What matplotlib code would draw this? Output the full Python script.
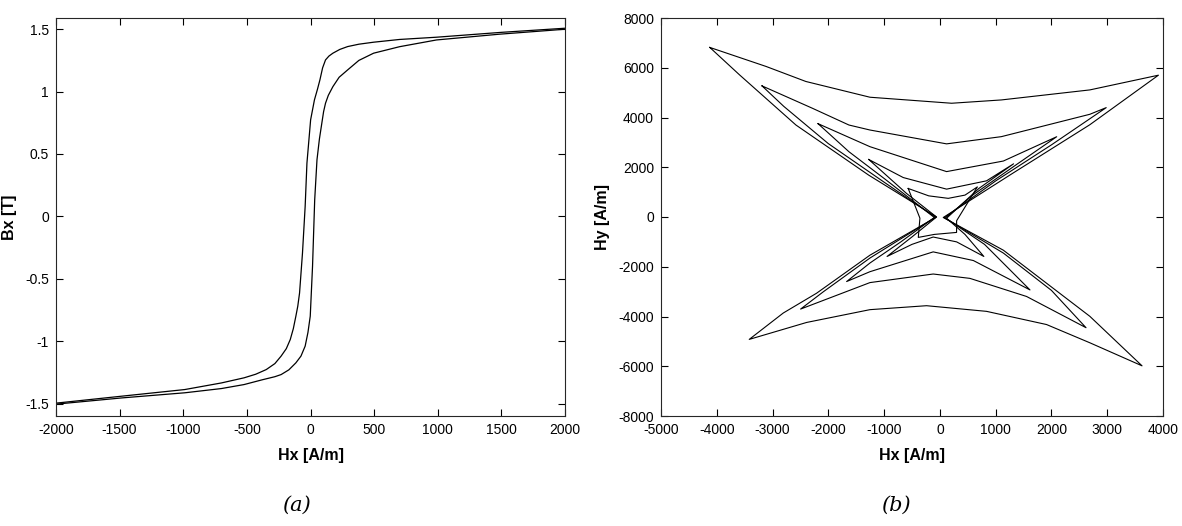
import matplotlib
matplotlib.use("Agg")
import matplotlib.pyplot as plt

plt.rcParams['font.family'] = ['Liberation Sans', 'DejaVu Sans']
plt.rcParams['axes.unicode_minus'] = False

# (a) hysteresis loop Bx(Hx)
desc_hx = [2000, 1500, 990, 700, 496, 380, 292, 230, 176, 145, 118, 95, 74, 55, 31, 1, -28, -42,
           -63, -86, -100, -115, -135, -159, -190, -231, -280, -348, -430, -522, -700, -988, -1482, -2000]
desc_bx = [1.508, 1.475, 1.436, 1.418, 1.396, 1.38, 1.361, 1.338, 1.308, 1.285, 1.254, 1.19, 1.094, 1.02,
           0.934, 0.774, 0.427, 0.08, -0.294, -0.614, -0.72, -0.80, -0.90, -0.987, -1.06, -1.12, -1.18,
           -1.228, -1.265, -1.294, -1.335, -1.388, -1.441, -1.497]
asc_hx = [-2000, -1482, -988, -700, -522, -380, -280, -231, -170, -115, -75, -42, -20, -2, 16, 33,
          51, 70, 89, 103, 118, 140, 176, 225, 292, 380, 496, 700, 990, 1482, 2000]
asc_bx = [-1.505, -1.455, -1.414, -1.38, -1.348, -1.31, -1.285, -1.268, -1.23, -1.174, -1.12, -1.04,
          -0.93, -0.80, -0.40, 0.133, 0.454, 0.62, 0.747, 0.84, 0.907, 0.97, 1.04, 1.115, 1.174,
          1.25, 1.308, 1.36, 1.414, 1.46, 1.500]

# (b) Hy(Hx) loci, outermost to innermost
loop1_hx = [-4125, -3116, -2403, -1254, 210, 1102, 2688, 3918,
            2688, 1300, 60,
            1138, 2688, 3624,
            2688, 1912, 836, -239, -1254, -2389, -3418,
            -2808, -2210, -1254, -60,
            -1275, -2581, -3592, -4125]
loop1_hy = [6817, 6052, 5448, 4815, 4573, 4706, 5109, 5701,
            3709, 1750, -20,
            -1335, -3992, -5983,
            -5056, -4323, -3793, -3566, -3725, -4239, -4920,
            -3860, -3063, -1535, 0,
            1681, 3698, 5714, 6817]

loop2_hx = [-3189, -2285, -1631, -1254, 120, 1102, 2688, 2982,
            2000, 1000, 80,
            1138, 2000, 2620,
            1554, 538, -120, -1254, -2497,
            -2091, -1254, -80,
            -1000, -2000, -2800, -3189]
loop2_hy = [5271, 4371, 3698, 3497, 2940, 3230, 4129, 4397,
            2900, 1450, -30,
            -1450, -2950, -4450,
            -3195, -2467, -2292, -2637, -3701,
            -3008, -1650, -10,
            1400, 2950, 4450, 5271]

loop3_hx = [-2184, -1254, 120, 1138, 2094,
            1400, 600, 100,
            800, 1615,
            600, -120, -1254, -1672,
            -1254, -700, -100,
            -1000, -1631, -2184]
loop3_hy = [3751, 2827, 1825, 2250, 3227,
            2150, 900, -40,
            -1100, -2931,
            -1750, -1402, -2199, -2595,
            -1850, -1000, -20,
            1550, 2625, 3751]

loop4_hx = [-1275, -657, 120, 836, 1321,
            700, 120,
            450, 788,
            300, -120, -500, -947,
            -500, -60,
            -600, -1275]
loop4_hy = [2312, 1586, 1120, 1454, 2138,
            1150, -50,
            -700, -1586,
            -1000, -805, -1100, -1586,
            -800, 0,
            950, 2312]

loop5_hx = [-568, -200, 150, 450, 672, 300, 299, -100, -387, -358, -568]
loop5_hy = [1147, 850, 750, 880, 1210, -150, -620, -700, -820, -48, 1147]

loops = [(loop1_hx, loop1_hy), (loop2_hx, loop2_hy), (loop3_hx, loop3_hy),
         (loop4_hx, loop4_hy), (loop5_hx, loop5_hy)]

fig = plt.figure(figsize=(11.82, 5.26), dpi=100)
ax1 = fig.add_axes([56/1182, 1-416/526, 509/1182, 398/526])
ax2 = fig.add_axes([661/1182, 1-416/526, 502/1182, 398/526])

ax1.plot(desc_hx, desc_bx, color='black', lw=0.9)
ax1.plot(asc_hx, asc_bx, color='black', lw=0.9)
ax1.set_xlim(-2000, 2000)
ax1.set_ylim(-1.6, 1.59)
ax1.set_xticks(range(-2000, 2001, 500))
ax1.set_yticks([-1.5, -1, -0.5, 0, 0.5, 1, 1.5])
ax1.set_yticklabels(['-1.5', '-1', '-0.5', '0', '0.5', '1', '1.5'])
ax1.set_xlabel('Hx [A/m]', fontweight='bold', fontsize=11.5, labelpad=8)
ax1.set_ylabel('Bx [T]', fontweight='bold', fontsize=11.5, labelpad=6)

for hx, hy in loops:
    ax2.plot(hx, hy, color='black', lw=0.8)
ax2.set_xlim(-5000, 4000)
ax2.set_ylim(-8000, 8000)
ax2.set_xticks(range(-5000, 4001, 1000))
ax2.set_yticks(range(-8000, 8001, 2000))
ax2.set_xlabel('Hx [A/m]', fontweight='bold', fontsize=11.5, labelpad=8)
ax2.set_ylabel('Hy [A/m]', fontweight='bold', fontsize=11.5, labelpad=6)

for ax in (ax1, ax2):
    ax.tick_params(direction='in', top=True, right=True, length=5, width=0.8,
                   labelsize=10, pad=5)
    for sp in ax.spines.values():
        sp.set_linewidth(0.8)
        sp.set_color('#262626')

fig.text(296/1182, 1-505/526, '(a)', ha='center', va='center',
         fontsize=15, style='italic', family='DejaVu Serif')
fig.text(896/1182, 1-505/526, '(b)', ha='center', va='center',
         fontsize=15, style='italic', family='DejaVu Serif')

fig.savefig('out.png', dpi=100)
